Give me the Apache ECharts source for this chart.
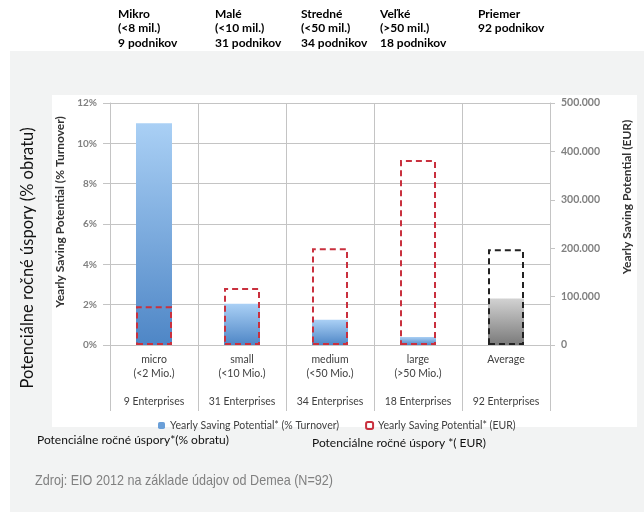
<!DOCTYPE html>
<html lang="sk">
<head>
    <meta charset="UTF-8">
    <title>Potenciálne ročné úspory</title>
    <style>
        html, body, #chart {
            width: 644px;
            height: 512px;
            margin: 0;
            padding: 0;
            background: #fff;
        }
    </style>
    <script src="https://cdn.jsdelivr.net/npm/echarts@6/dist/echarts.min.js"></script>
</head>
<body>
    <div id="chart"></div>
    <script>
        // category labels of the original chart
        var categories = [
            'micro\n(<2 Mio.)\n\n9 Enterprises',
            'small\n(<10 Mio.)\n\n31 Enterprises',
            'medium\n(<50 Mio.)\n\n34 Enterprises',
            'large\n(>50 Mio.)\n\n18 Enterprises',
            'Average\n\n\n92 Enterprises'
        ];
        // yearly saving potential, % of turnover
        var turnoverPct = [11.0, 2.05, 1.25, 0.4, 2.3];
        // yearly saving potential, EUR
        var savingEur = [80000, 118000, 200000, 382000, 198000];

        // Slovak header columns above the chart
        var headerTitles = ['Mikro', 'Malé', 'Stredné', 'Veľké', 'Priemer'];
        var headerSizes = ['(<8 mil.)', '(<10 mil.)', '(<50 mil.)', '(>50 mil.)', '92 podnikov'];
        var headerCounts = ['9 podnikov', '31 podnikov', '34 podnikov', '18 podnikov', ''];
        var headerX = [118, 215, 301, 380, 478];

        var GRID = '#c4c4c4';
        var RED = '#c9303e';

        function thousands(v) {
            return String(v).replace(/\B(?=(\d{3})+(?!\d))/g, '.');
        }

        function blueFill() {
            return new echarts.graphic.LinearGradient(0, 0, 0, 1, [
                { offset: 0, color: '#aad0f5' },
                { offset: 1, color: '#4e86c6' }
            ]);
        }

        function grayFill() {
            return new echarts.graphic.LinearGradient(0, 0, 0, 1, [
                { offset: 0, color: '#d2d2d2' },
                { offset: 1, color: '#7a7a7a' }
            ]);
        }

        var pctData = turnoverPct.map(function (v, i) {
            var last = i === turnoverPct.length - 1;
            return { value: v, itemStyle: { color: last ? grayFill() : blueFill() } };
        });

        var eurData = savingEur.map(function (v, i) {
            var last = i === savingEur.length - 1;
            return { value: v, itemStyle: { borderColor: last ? '#222' : RED } };
        });

        var texts = [];
        headerTitles.forEach(function (t, i) {
            [t, headerSizes[i], headerCounts[i]].forEach(function (line, j) {
                if (!line) return;
                texts.push({
                    type: 'text', left: headerX[i], top: 8 + j * 14.5,
                    style: { text: line, font: 'bold 12px Lato', fill: '#000' }
                });
            });
        });

        var chart = echarts.init(document.getElementById('chart'), null, { renderer: 'canvas' });

        chart.setOption({
            animation: false,
            textStyle: { fontFamily: 'Lato' },
            graphic: [
                { type: 'rect', z: -10, shape: { x: 10, y: 51, width: 634, height: 461 }, style: { fill: '#f2f3f3' } },
                { type: 'rect', z: -9, shape: { x: 52, y: 95, width: 585, height: 332 }, style: { fill: '#fff' } },
                {
                    type: 'text', x: 28, y: 258, rotation: Math.PI / 2,
                    style: { text: 'Potenciálne ročné úspory (% obratu)', font: '16.5px Lato', fill: '#111', align: 'center', verticalAlign: 'middle' }
                },
                {
                    type: 'text', left: 37, top: 434,
                    style: { text: 'Potenciálne ročné úspory*(% obratu)', font: '12px Lato', fill: '#111' }
                },
                {
                    type: 'text', left: 312, top: 437,
                    style: { text: 'Potenciálne ročné úspory *( EUR)', font: '12px Lato', fill: '#111' }
                },
                {
                    type: 'text', x: 35, y: 481, scaleX: 0.84,
                    style: { text: 'Zdroj: EIO 2012 na základe údajov od Demea (N=92)', font: '15px "Liberation Sans"', fill: '#808080', verticalAlign: 'middle' }
                }
            ].concat(texts),
            grid: { left: 110, right: 94, top: 103, bottom: 167 },
            legend: {
                left: 153, top: 415,
                itemWidth: 7, itemHeight: 7, itemGap: 26,
                textStyle: { fontSize: 10.5, color: '#404040' },
                data: ['Yearly Saving Potential* (% Turnover)', 'Yearly Saving Potential* (EUR)']
            },
            xAxis: {
                type: 'category',
                data: categories,
                axisLine: { lineStyle: { color: GRID } },
                axisTick: { show: true, length: 66, interval: 0, lineStyle: { color: GRID } },
                splitLine: { show: true, interval: 0, lineStyle: { color: GRID } },
                axisLabel: { interval: 0, fontSize: 10.5, lineHeight: 14, color: '#404040', margin: 8 }
            },
            yAxis: [
                {
                    type: 'value', min: 0, max: 12, interval: 2,
                    name: 'Yearly Saving Potential (% Turnover)',
                    nameLocation: 'middle', nameRotate: 90, nameGap: 43,
                    nameTextStyle: { fontSize: 12, fontWeight: 'bold', color: '#333', padding: [0, 0, 0, 24] },
                    axisLine: { show: true, lineStyle: { color: GRID } },
                    axisTick: { show: true, length: 7, lineStyle: { color: GRID } },
                    splitLine: { lineStyle: { color: GRID } },
                    axisLabel: { formatter: '{value}%', fontSize: 10, fontWeight: 'bold', color: '#808080', margin: 13 }
                },
                {
                    type: 'value', min: 0, max: 500000, interval: 100000,
                    name: 'Yearly Saving Potential (EUR)',
                    nameLocation: 'middle', nameRotate: 90, nameGap: 71,
                    nameTextStyle: { fontSize: 12, fontWeight: 'bold', color: '#333', padding: [0, 0, 0, 54] },
                    axisLine: { show: true, lineStyle: { color: GRID } },
                    axisTick: { show: true, length: 5, lineStyle: { color: GRID } },
                    splitLine: { show: false },
                    axisLabel: { formatter: thousands, fontSize: 10.5, fontWeight: 'bold', color: '#808080', margin: 11 }
                }
            ],
            series: [
                {
                    name: 'Yearly Saving Potential* (% Turnover)',
                    type: 'bar', yAxisIndex: 0, barWidth: 36,
                    itemStyle: { color: '#6a9fd8' },
                    data: pctData
                },
                {
                    name: 'Yearly Saving Potential* (EUR)',
                    type: 'bar', yAxisIndex: 1, barWidth: 36, barGap: '-100%',
                    itemStyle: { color: 'rgba(0,0,0,0)', borderColor: RED, borderWidth: 2, borderType: [6, 4] },
                    data: eurData
                }
            ]
        });
    </script>
</body>
</html>
